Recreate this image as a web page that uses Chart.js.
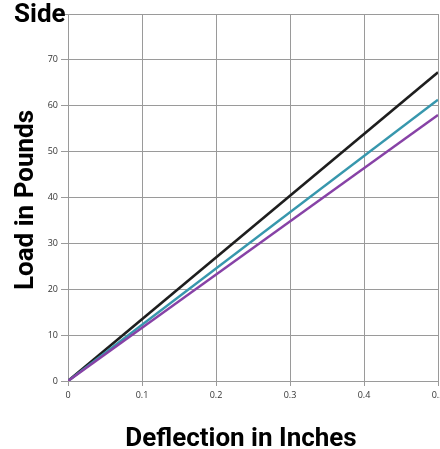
<!DOCTYPE html>
<html><head><meta charset="utf-8">
<script src="https://cdn.jsdelivr.net/npm/chart.js@4"></script>
<style>
html,body{margin:0;padding:0;background:#fff;}
#wrap{position:relative;width:440px;height:449px;overflow:hidden;}
canvas{position:absolute;left:0;top:0;}
.t{position:absolute;font-family:Roboto,sans-serif;font-weight:bold;color:#000;white-space:nowrap;font-size:26px;line-height:30px;}
</style></head><body>
<div id="wrap">
<canvas id="c" width="440" height="449"></canvas>
<div class="t" style="left:14px;top:-2px;">Side</div>
<div class="t" style="left:23.5px;top:200px;transform:translate(-50%,-50%) rotate(-90deg);">Load in Pounds</div>
<div class="t" style="left:241px;top:436.5px;transform:translate(-50%,-50%);">Deflection in Inches</div>
</div>
<script>
const deflection = [0, 0.5];
const seriesBlack = [0, 67.3];
const seriesTeal = [0, 61.3];
const seriesPurple = [0, 58.0];
const xTicks = [0, 0.1, 0.2, 0.3, 0.4, 0.5];
const yTicks = [0, 10, 20, 30, 40, 50, 60, 70, 80];

function pts(arr){ return deflection.map((x,i)=>({x:x,y:arr[i]})); }
const tickFont = {family:'"Open Sans", sans-serif', size:9};
new Chart(document.getElementById('c'), {
  type:'line',
  data:{datasets:[
    {data:pts(seriesPurple), borderColor:'#8742a6', borderWidth:2.5, pointRadius:0, tension:0},
    {data:pts(seriesTeal), borderColor:'#3797ad', borderWidth:2.5, pointRadius:0, tension:0},
    {data:pts(seriesBlack), borderColor:'#1e1e1e', borderWidth:2.5, pointRadius:0, tension:0}
  ]},
  options:{
    responsive:false, animation:false,
    layout:{padding:{left:0,top:14,right:2,bottom:0}},
    plugins:{legend:{display:false}, tooltip:{enabled:false}, title:{display:false}},
    scales:{
      x:{type:'linear', min:0, max:0.5,
        afterBuildTicks:s=>{s.ticks=xTicks.map(v=>({value:v}));},
        afterFit:s=>{s.height=68; s.paddingLeft=0; s.paddingRight=0;},
        grid:{color:'#9a9a9a', lineWidth:1, tickLength:5, drawTicks:true},
        border:{color:'#9a9a9a'},
        ticks:{font:tickFont, color:'#333', padding:4, maxRotation:0, autoSkip:false, callback:v=>String(v)}
      },
      y:{type:'linear', min:0, max:80,
        afterBuildTicks:s=>{s.ticks=yTicks.map(v=>({value:v}));},
        afterFit:s=>{s.width=68; s.paddingTop=0; s.paddingBottom=0;},
        grid:{color:'#9a9a9a', lineWidth:1, tickLength:7},
        border:{color:'#9a9a9a'},
        ticks:{font:tickFont, color:'#333', padding:3, autoSkip:false, callback:v=>v===80?'':String(v)}
      }
    }
  }
});
</script>
</body></html>
